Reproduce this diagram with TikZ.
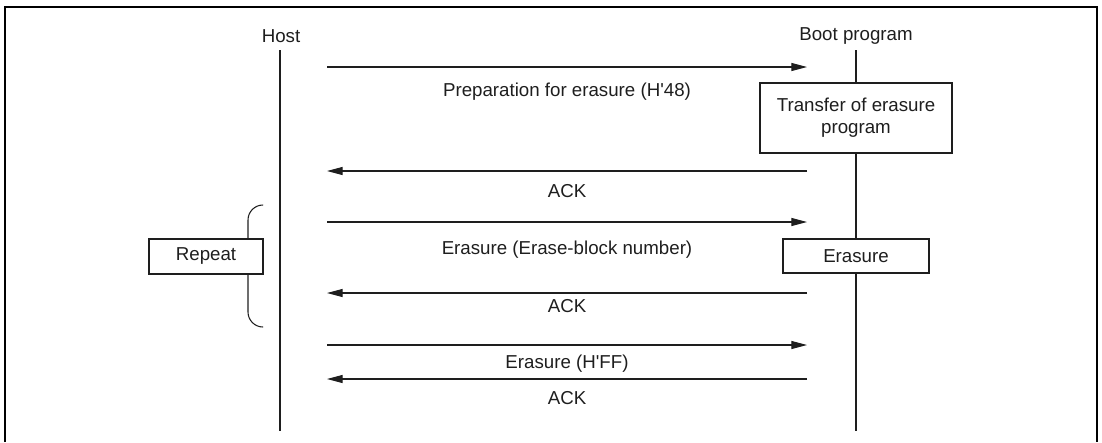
\documentclass[tikz,border=0pt]{standalone}
\usepackage{fontspec}
\setmainfont{Liberation Sans}
\usetikzlibrary{arrows.meta, positioning}
\definecolor{ink}{RGB}{30,30,30}

\begin{document}
\begin{tikzpicture}[
    x=0.025cm, y=-0.025cm,
    every node/.style={font=\fontsize{13.3}{15.6}\selectfont, text=ink},
    proc/.style={rectangle, draw=ink, line width=1.4pt, fill=white, align=center, inner sep=0pt},
    life/.style={ink, line width=1.5pt},
    msg/.style={-{Triangle[length=0.39cm, width=0.2cm]}, ink, line width=0.75pt},
    lbl/.style={midway, inner sep=0pt},
]
\useasboundingbox (0,0) rectangle (1102,442);
\draw[line width=1.9pt] (5,442) |- (1097,7) -- (1097,442);

% lifelines
\node (host) at (281,36) {Host};
\node (boot) at (856,36) {Boot program};
\coordinate (hosttop) at (280,50);
\coordinate (hostend) at (280,431);
\coordinate (boottop) at (856,50);
\coordinate (bootend) at (856,431);
\draw[life] (hosttop) -- (hostend);
\draw[life] (boottop) -- (bootend);

% boxes on the boot program side
\node[proc, minimum width=4.8cm, minimum height=1.75cm] (transfer) at (856,118) {Transfer of erasure\\program};
\node[proc, minimum width=3.65cm, minimum height=0.85cm] (erase) at (856,256) {Erasure};

% repeat bracket
\coordinate (brtop) at (263,205);
\coordinate (brmid) at (248,266);
\coordinate (brbot) at (263,327);
\draw[ink, line width=0.75pt, rounded corners=0.375cm] (brtop) -| (brmid) |- (brbot);
\node[proc, minimum width=2.85cm, minimum height=0.875cm] (repeat) at (206,256.5) {Repeat};

% message ends
\coordinate (h1) at (327,67);  \coordinate (b1) at (807,67);
\coordinate (h2) at (327,171); \coordinate (b2) at (807,171);
\coordinate (h3) at (327,222); \coordinate (b3) at (807,222);
\coordinate (h4) at (327,293); \coordinate (b4) at (807,293);
\coordinate (h5) at (327,345); \coordinate (b5) at (807,345);
\coordinate (h6) at (327,379); \coordinate (b6) at (807,379);

\draw[msg] (h1) -- node[lbl, yshift=-17.5pt] {Preparation for erasure (H\textquotesingle 48)} (b1);
\draw[msg] (b2) -- node[lbl, yshift=-14pt] {ACK} (h2);
\draw[msg] (h3) -- node[lbl, yshift=-19.5pt] {Erasure (Erase-block number)} (b3);
\draw[msg] (b4) -- node[lbl, yshift=-9pt] {ACK} (h4);
\draw[msg] (h5) -- node[lbl, yshift=-13.5pt] {Erasure (H\textquotesingle FF)} (b5);
\draw[msg] (b6) -- node[lbl, yshift=-13.5pt] {ACK} (h6);
\end{tikzpicture}
\end{document}
